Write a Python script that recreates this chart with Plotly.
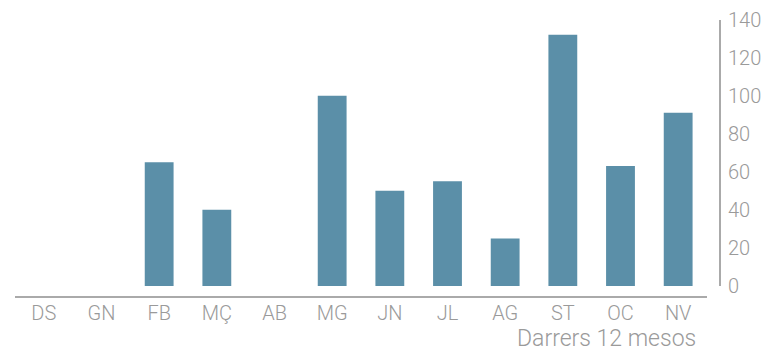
import plotly.graph_objects as go

months = ["DS", "GN", "FB", "MÇ", "AB", "MG", "JN", "JL", "AG", "ST", "OC", "NV"]
values = [0, 0, 65, 40, 0, 100, 50, 55, 25, 132, 63, 91]
y_ticks = [0, 20, 40, 60, 80, 100, 120, 140]
x_title = "Darrers 12 mesos"

W, H = 771, 355
FONT = "Helvetica Neue Light, Roboto, Liberation Sans, sans-serif"
TXT = "#9a9a9a"
LINE = "#aaaaaa"

fig = go.Figure(go.Bar(x=months, y=values, marker=dict(color="#5b8fa8", line=dict(width=0))))

fig.update_layout(
    width=W, height=H,
    margin=dict(l=0, r=0, t=0, b=0, autoexpand=False),
    paper_bgcolor="white", plot_bgcolor="white",
    bargap=0.5,
    showlegend=False,
    font=dict(family=FONT, size=20, color=TXT, weight=300),
    xaxis=dict(
        domain=[15 / W, 707 / W],
        anchor="free", position=1 - 297 / H,
        showline=True, linecolor=LINE, linewidth=2,
        showgrid=False, zeroline=False, ticks="",
        ticklabelstandoff=-2,
        automargin=False,
        tickfont=dict(family=FONT, size=20, color=TXT, weight=300),
        fixedrange=True,
    ),
    yaxis=dict(
        domain=[1 - 286 / H, 1 - 19.5 / H],
        range=[0, 140],
        side="right", anchor="free", position=720 / W,
        tickvals=y_ticks,
        showline=True, linecolor=LINE, linewidth=2,
        showgrid=False, zeroline=False, ticks="",
        ticklabelstandoff=3,
        automargin=False,
        tickfont=dict(family=FONT, size=20, color=TXT, weight=300),
        fixedrange=True,
    ),
    annotations=[dict(
        text=x_title, xref="paper", yref="paper",
        x=698 / W, y=0.002, xanchor="right", yanchor="bottom",
        showarrow=False, font=dict(family=FONT, size=23, color=TXT, weight=300),
    )],
)

fig.write_html(
    "out.html",
    config={"displayModeBar": False},
    post_script="document.body.style.margin='0';document.body.style.overflow='hidden';",
)
